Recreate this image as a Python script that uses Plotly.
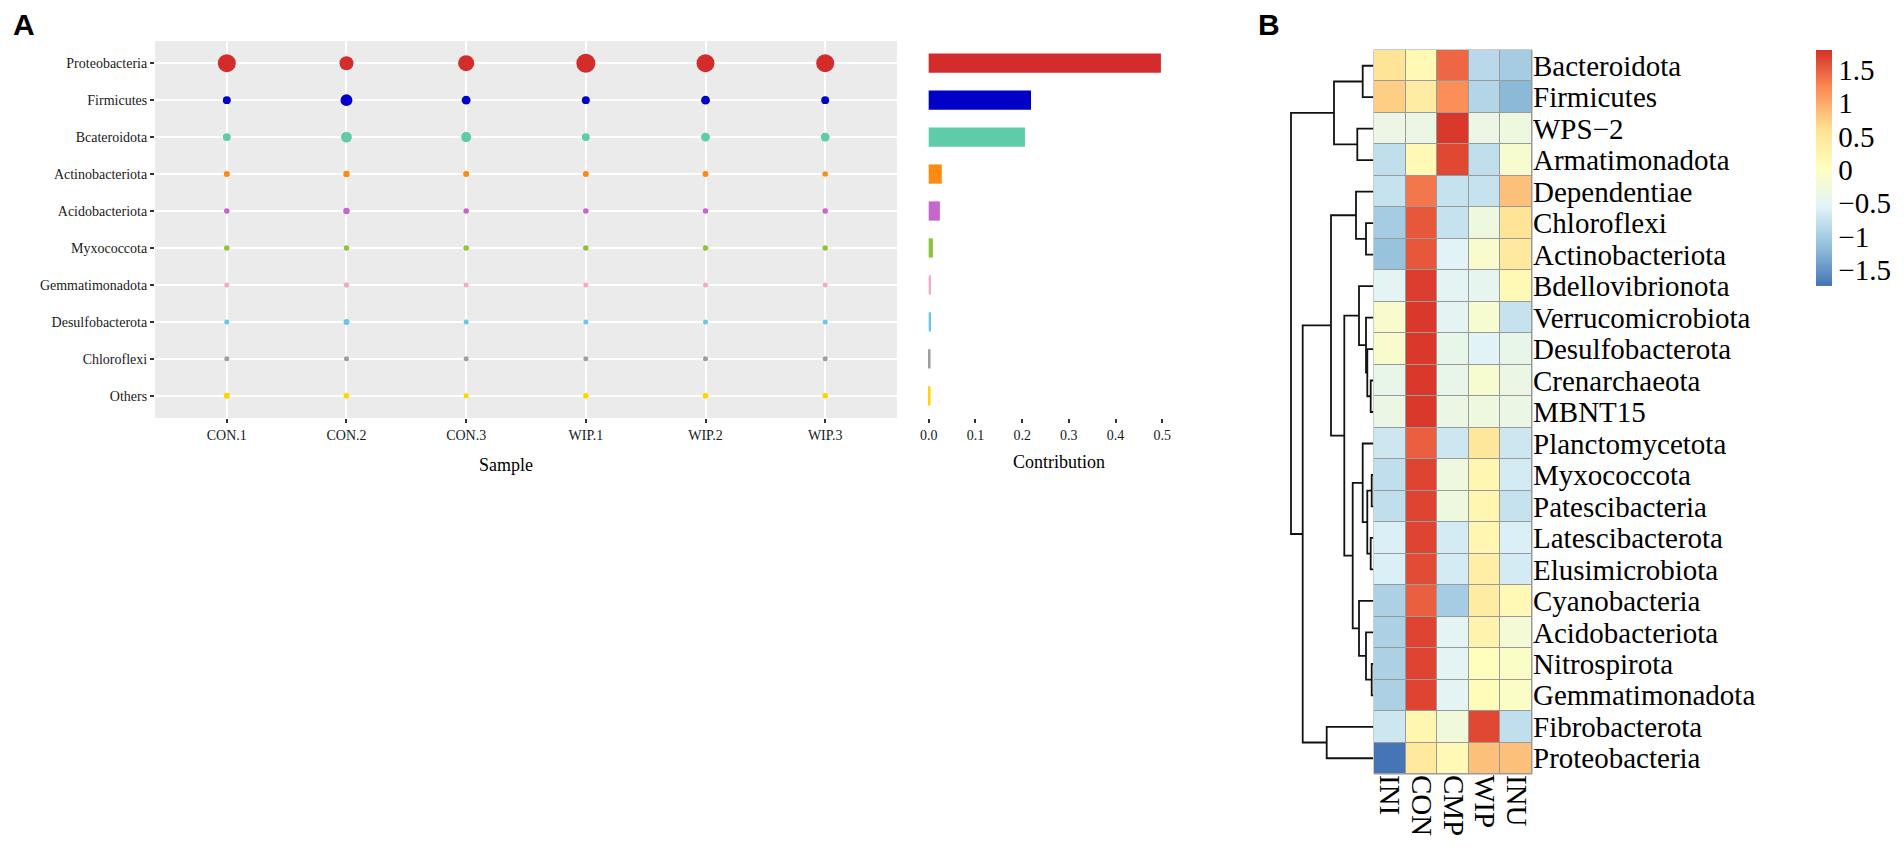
import numpy as np
import plotly.graph_objects as go

W, H = 1904, 854
SERIF = "Liberation Serif, Times New Roman, serif"
SANS = "Liberation Sans, Arial, sans-serif"

# ---------------- Panel A data ----------------
phyla_a = ["Proteobacteria", "Firmicutes", "Bcateroidota", "Actinobacteriota",
           "Acidobacteriota", "Myxococcota", "Gemmatimonadota", "Desulfobacterota",
           "Chloroflexi", "Others"]
samples = ["CON.1", "CON.2", "CON.3", "WIP.1", "WIP.2", "WIP.3"]
# relative abundance (%) per sample
ab_proteobacteria = [41, 25, 33, 46, 41, 41]
ab_firmicutes = [8, 18, 10, 8, 10, 8]
ab_bcateroidota = [8, 15, 13, 8, 10, 10]
ab_actinobacteriota = [4.6, 5.4, 4.6, 4.6, 4.6, 3.9]
ab_acidobacteriota = [3.9, 5.4, 3.9, 3.9, 3.9, 3.9]
ab_myxococcota = [3.9, 3.9, 3.9, 3.9, 3.9, 3.9]
ab_gemmatimonadota = [3.2, 3.9, 3.2, 3.2, 3.2, 3.2]
ab_desulfobacterota = [3.2, 4.6, 3.2, 3.2, 3.2, 3.2]
ab_chloroflexi = [3.2, 3.2, 3.2, 3.2, 3.2, 3.2]
ab_others = [4.6, 3.9, 3.2, 3.9, 3.9, 3.9]
abundance = [ab_proteobacteria, ab_firmicutes, ab_bcateroidota, ab_actinobacteriota,
             ab_acidobacteriota, ab_myxococcota, ab_gemmatimonadota,
             ab_desulfobacterota, ab_chloroflexi, ab_others]
contribution = [0.497, 0.219, 0.206, 0.028, 0.024, 0.009, 0.005, 0.005, 0.004, 0.004]
colors_a = ["#D42B2B", "#0000C8", "#5ECCA9", "#FF8A10", "#C466CC", "#8CC43C",
            "#F5A9C8", "#6CC5E3", "#9E9E9E", "#FFD400"]
contrib_ticks = [0.0, 0.1, 0.2, 0.3, 0.4, 0.5]

# ---------------- Panel B data ----------------
heat_rows = ["Bacteroidota", "Firmicutes", "WPS\u22122", "Armatimonadota", "Dependentiae",
             "Chloroflexi", "Actinobacteriota", "Bdellovibrionota", "Verrucomicrobiota",
             "Desulfobacterota", "Crenarchaeota", "MBNT15", "Planctomycetota",
             "Myxococcota", "Patescibacteria", "Latescibacterota", "Elusimicrobiota",
             "Cyanobacteria", "Acidobacteriota", "Nitrospirota", "Gemmatimonadota",
             "Fibrobacterota", "Proteobacteria"]
heat_cols = ["INI", "CON", "CMP", "WIP", "INU"]
heat_z = [
    [0.55, 0.15, 1.45, -0.85, -1.0],
    [0.75, 0.40, 1.20, -0.90, -1.2],
    [-0.35, -0.35, 1.75, -0.35, -0.30],
    [-0.80, 0.15, 1.65, -0.80, -0.15],
    [-0.75, 1.35, -0.75, -0.75, 0.85],
    [-1.00, 1.55, -0.75, -0.30, 0.55],
    [-1.10, 1.55, -0.55, -0.10, 0.45],
    [-0.50, 1.72, -0.50, -0.45, 0.15],
    [-0.10, 1.75, -0.50, -0.15, -0.75],
    [-0.10, 1.75, -0.40, -0.55, -0.40],
    [-0.40, 1.75, -0.40, -0.15, -0.35],
    [-0.35, 1.75, -0.35, -0.30, -0.35],
    [-0.70, 1.50, -0.70, 0.50, -0.70],
    [-0.80, 1.68, -0.30, 0.20, -0.65],
    [-0.80, 1.68, -0.30, 0.20, -0.75],
    [-0.60, 1.68, -0.65, 0.20, -0.60],
    [-0.60, 1.62, -0.65, 0.35, -0.65],
    [-0.95, 1.50, -1.00, 0.40, 0.15],
    [-0.95, 1.68, -0.50, 0.25, -0.20],
    [-0.95, 1.68, -0.50, 0.05, -0.05],
    [-0.95, 1.68, -0.50, 0.10, -0.05],
    [-0.70, 0.20, -0.25, 1.65, -0.80],
    [-1.74, 0.45, 0.15, 0.85, 0.85],
]
z_min, z_max = -1.74, 1.80
cbar_ticks = [-1.5, -1, -0.5, 0, 0.5, 1, 1.5]
cbar_text = ["\u22121.5", "\u22121", "\u22120.5", "0", "0.5", "1", "1.5"]
# row dendrogram merges (child_a, child_b, height); ids >= 23 are earlier merges
row_merges = [
    (13, 14, 0.16), (19, 20, 0.16), (10, 11, 0.26), (15, 16, 0.26),
    (9, 25, 0.60), (23, 26, 0.60), (5, 6, 0.73), (8, 27, 0.73), (18, 24, 0.73),
    (0, 1, 1.06), (12, 28, 1.06), (7, 30, 1.43), (17, 31, 1.43), (2, 3, 1.60),
    (4, 29, 1.73), (33, 35, 2.06), (34, 38, 2.90), (32, 36, 3.93), (37, 39, 4.23),
    (21, 22, 4.66), (41, 42, 7.06), (40, 43, 8.23),
]
rdylbu = ["#4575B4", "#91BFDB", "#E0F3F8", "#FFFFBF", "#FEE090", "#FC8D59", "#D73027"]


def xdom(p0, p1):
    return [p0 / W, p1 / W]


def ydom(top, bottom):
    return [1 - bottom / H, 1 - top / H]


fig = go.Figure()

# ---- dot plot ----
K = 2.8  # diameter scale (area ~ abundance)
for name, vals, col in zip(phyla_a, abundance, colors_a):
    fig.add_trace(go.Scatter(
        x=samples, y=[name] * len(samples), mode="markers",
        marker=dict(size=[K * np.sqrt(v) for v in vals], color=col, opacity=1,
                    line=dict(width=0)),
        xaxis="x", yaxis="y", showlegend=False, hoverinfo="skip"))

# ---- contribution bars ----
fig.add_trace(go.Bar(
    x=contribution, y=phyla_a, orientation="h", marker=dict(color=colors_a, line=dict(width=0)),
    width=0.52, xaxis="x2", yaxis="y2", showlegend=False, hoverinfo="skip"))

# ---- heatmap ----
nrow, ncol = len(heat_rows), len(heat_cols)
cs = [[i / (len(rdylbu) - 1), c] for i, c in enumerate(rdylbu)]
fig.add_trace(go.Heatmap(
    z=heat_z, x=list(range(ncol)), y=list(range(nrow)), colorscale=cs,
    zmin=z_min, zmax=z_max, xgap=1, ygap=1, xaxis="x3", yaxis="y3",
    hoverinfo="skip",
    colorbar=dict(x=1816 / W, xanchor="left", y=1 - 50 / H, yanchor="top",
                  len=236 / H, lenmode="fraction", thickness=16, thicknessmode="pixels",
                  xpad=0, ypad=0, outlinewidth=0, ticks="",
                  tickvals=cbar_ticks, ticktext=cbar_text,
                  tickfont=dict(family=SERIF, size=29, color="black"))))

# ---- dendrogram ----
pos = {i: (0.0, float(i)) for i in range(nrow)}
dx, dy = [], []
for k, (a, b, h) in enumerate(row_merges):
    ha, ya = pos[a]
    hb, yb = pos[b]
    dx += [ha, h, h, hb, None]
    dy += [ya, ya, yb, yb, None]
    pos[nrow + k] = (h, (ya + yb) / 2)
fig.add_trace(go.Scatter(x=dx, y=dy, mode="lines", line=dict(color="#111111", width=1.8),
                         xaxis="x4", yaxis="y4", showlegend=False, hoverinfo="skip"))

tickfont_a = dict(family=SERIF, size=14, color="#1a1a1a")
dot_top, dot_bot = 41, 418
fig.update_layout(
    width=W, height=H, autosize=False,
    margin=dict(l=0, r=0, t=0, b=0),
    paper_bgcolor="white", plot_bgcolor="rgba(0,0,0,0)",
    xaxis=dict(domain=xdom(155, 897), anchor="y", type="category",
               categoryorder="array", categoryarray=samples, range=[-0.6, 5.6],
               showgrid=True, gridcolor="white", gridwidth=2, zeroline=False,
               showline=False, ticks="outside", ticklen=4, tickwidth=2, tickcolor="#333",
               tickfont=tickfont_a),
    yaxis=dict(domain=ydom(dot_top, dot_bot), anchor="x", type="category",
               categoryorder="array", categoryarray=phyla_a, range=[9.6, -0.6],
               showgrid=True, gridcolor="white", gridwidth=2, zeroline=False,
               showline=False, ticks="outside", ticklen=4, tickwidth=2, tickcolor="#333",
               tickfont=tickfont_a),
    xaxis2=dict(domain=xdom(917, 1174), anchor="y2", range=[-0.025, 0.525],
                tickvals=contrib_ticks, ticktext=[f"{v:.1f}" for v in contrib_ticks],
                showgrid=False, zeroline=False, showline=False,
                ticks="outside", ticklen=4, tickwidth=2, tickcolor="#333",
                tickfont=tickfont_a),
    yaxis2=dict(domain=ydom(dot_top, dot_bot), anchor="x2", type="category",
                categoryorder="array", categoryarray=phyla_a, range=[9.6, -0.6],
                showgrid=False, zeroline=False, showline=False, showticklabels=False,
                ticks=""),
    xaxis3=dict(domain=xdom(1374, 1532), anchor="y3", range=[-0.5, ncol - 0.5],
                tickvals=list(range(ncol)), ticktext=heat_cols, tickangle=90,
                showgrid=False, zeroline=False, showline=False, ticks="",
                tickfont=dict(family=SERIF, size=29, color="black")),
    yaxis3=dict(domain=ydom(50, 774), anchor="x3", side="right",
                range=[nrow - 0.5, -0.5], tickvals=list(range(nrow)), ticktext=heat_rows,
                showgrid=False, zeroline=False, showline=False, ticks="",
                tickfont=dict(family=SERIF, size=29, color="black")),
    xaxis4=dict(domain=xdom(1282, 1373.3), anchor="y4", range=[9.13, 0], visible=False),
    yaxis4=dict(domain=ydom(50, 774), anchor="x4", range=[nrow - 0.5, -0.5], visible=False),
)

# panel background (ggplot grey) and heatmap cell borders
fig.add_shape(type="rect", xref="x domain", yref="y domain", x0=0, x1=1, y0=0, y1=1,
              fillcolor="#EBEBEB", line=dict(width=0), layer="below")
fig.add_shape(type="rect", xref="x3 domain", yref="y3 domain", x0=0, x1=1, y0=0, y1=1,
              fillcolor="#9A9A9A", line=dict(color="#9A9A9A", width=1), layer="below")

ann = [
    dict(text="A", x=24 / W, y=1 - 24 / H, font=dict(family=SANS, size=30, color="black"), bold=True),
    dict(text="B", x=1269 / W, y=1 - 24 / H, font=dict(family=SANS, size=30, color="black"), bold=True),
    dict(text="Sample", x=506 / W, y=1 - 465 / H, font=dict(family=SERIF, size=18, color="black")),
    dict(text="Contribution", x=1059 / W, y=1 - 462 / H, font=dict(family=SERIF, size=18, color="black")),
]
for a in ann:
    txt = f"<b>{a['text']}</b>" if a.get("bold") else a["text"]
    fig.add_annotation(text=txt, x=a["x"], y=a["y"], xref="paper", yref="paper",
                       xanchor="center", yanchor="middle", showarrow=False, font=a["font"])

fig.write_html("out.html", config={"displayModeBar": False},
               post_script="document.body.style.margin='0';document.body.style.overflow='hidden';")
